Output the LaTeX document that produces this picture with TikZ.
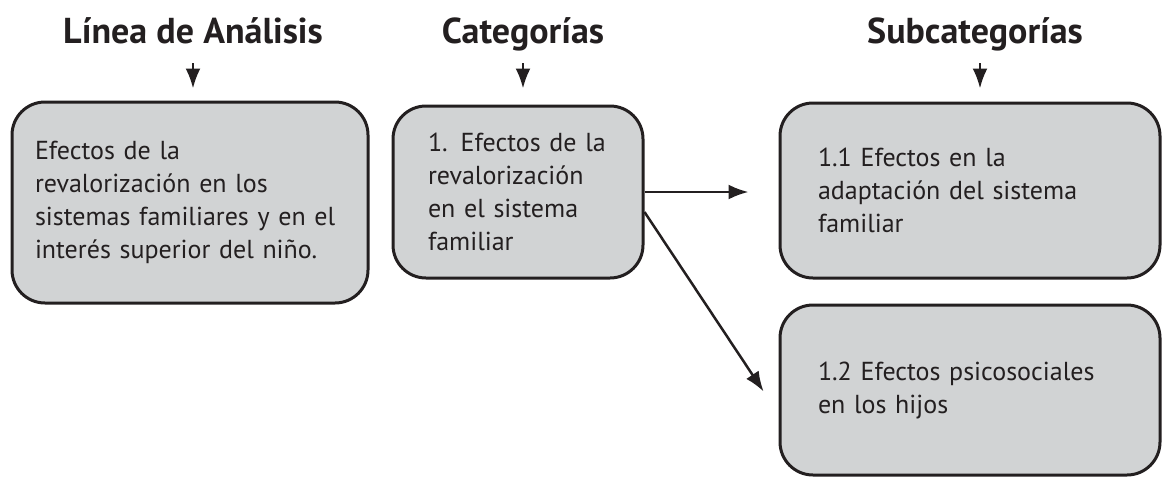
\documentclass[tikz,border=0pt]{standalone}
\usepackage{fontspec}
\setmainfont{PT Sans}
\usetikzlibrary{arrows.meta}
\definecolor{gris}{HTML}{D1D3D4}
\definecolor{tinta}{HTML}{231F20}

\begin{document}
\begin{tikzpicture}[x=1pt,y=-1pt]
\tikzstyle{every node}=[text=tinta]
\tikzstyle{caja}=[draw=tinta,line width=3pt,fill=gris,rounded corners=33pt,align=left,font=\fontsize{26}{33}\selectfont]
\tikzstyle{titulo}=[font=\bfseries\fontsize{36}{40}\selectfont,anchor=base,inner sep=0pt,text depth=0pt]
\tikzstyle{flecha}=[draw=tinta,line width=2.5pt,-{Latex[length=20pt,width=15pt]}]
\useasboundingbox (0,0) rectangle (1162,477);
\node[titulo] (t1) at (193,43) {Línea de Análisis};
\node[titulo] (t2) at (523,43) {Categorías};
\node[titulo] (t3) at (975,43) {Subcategorías};
\node[caja,minimum width=356pt,minimum height=201pt,inner xsep=23pt,text width=310pt] (b1) at (190,202.5)
{Efectos de la\\revalorización en los\\sistemas familiares y en el\\interés superior del niño.};
\node[caja,minimum width=250pt,minimum height=172pt,inner xsep=35pt,text width=180pt] (b2) at (518,192)
{1. Efectos de la\\revalorización\\en el sistema\\familiar};
\node[caja,minimum width=380pt,minimum height=175pt,inner xsep=38pt,text width=304pt] (b3) at (970,190.5)
{1.1 Efectos en la\\adaptación del sistema\\familiar};
\node[caja,minimum width=380pt,minimum height=170pt,inner xsep=38pt,text width=304pt] (b4) at (970,390)
{1.2 Efectos psicosociales\\en los hijos};
\draw[flecha,shorten <=20pt,shorten >=12pt] (t1.south) -- (t1.south |- b1.north);
\draw[flecha,shorten <=20pt,shorten >=16pt] (t2.south) -- (t2.south |- b2.north);
\draw[flecha,shorten <=20pt,shorten >=13pt] ([xshift=5pt]t3.south) -- ([xshift=5pt]t3.south |- b3.north);
\draw[flecha,shorten >=30pt] (b2.east) -- (b2.east -| b3.west);
\draw[flecha,shorten >=27pt] ([yshift=-20pt]b2.east) -- ([yshift=-24pt]b4.west);
\end{tikzpicture}
\end{document}
